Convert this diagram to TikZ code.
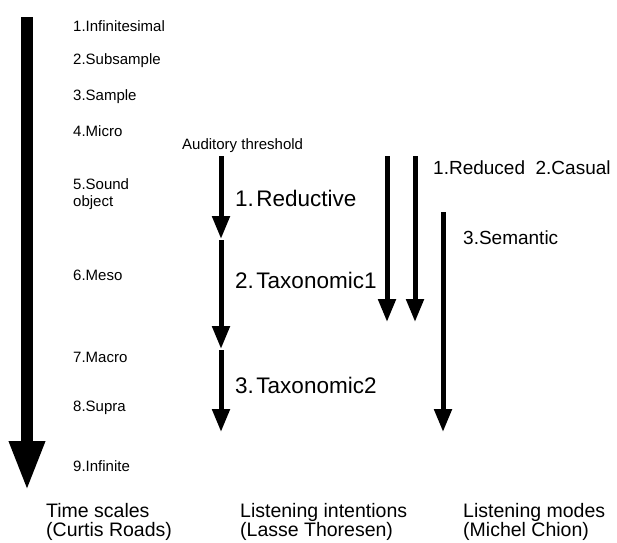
\documentclass[tikz,border=0pt]{standalone}
\usepackage{fontspec}
\setmainfont{Liberation Sans}
\usetikzlibrary{arrows.meta}
\begin{document}
\begin{tikzpicture}[x=1pt,y=-1pt,
  small/.style={anchor=west,font=\fontsize{15}{16.5}\selectfont,inner sep=0pt},
  big/.style={anchor=west,font=\fontsize{22.5}{24}\selectfont,inner sep=0pt},
  mid/.style={anchor=west,font=\fontsize{19}{21}\selectfont,inner sep=0pt},
  foot/.style={anchor=north west,align=left,font=\fontsize{19.5}{19.5}\selectfont,inner sep=0pt},
  bigarrow/.style={line width=12pt,-{Triangle[width=33pt,length=50pt]}},
  thinarrow/.style={line width=5pt,-{Triangle[width=17pt,length=23pt]}}]
\useasboundingbox[fill=white] (0,0) rectangle (617,542);
% time scales
\coordinate (ts0) at (27,17);
\coordinate (ts1) at (27,491);
\draw[bigarrow] (ts0) -- (ts1);
\node[small] (l1) at (73,26) {1.Infinitesimal};
\node[small] (l2) at (73,61) {2.Subsample};
\node[small] (l3) at (73,97) {3.Sample};
\node[small] (l4) at (73,131) {4.Micro};
\node[small,align=left] (l5) at (73,194) {5.Sound\\object};
\node[small] (l6) at (73,275) {6.Meso};
\node[small] (l7) at (73,357) {7.Macro};
\node[small] (l8) at (73,408) {8.Supra};
\node[small] (l9) at (73,466) {9.Infinite};
% listening intentions
\node[small] (thr) at (182,146) {Auditory threshold};
\coordinate (a0) at (221,156);
\coordinate (a1) at (221,239);
\coordinate (b0) at (221,240);
\coordinate (b1) at (221,349);
\coordinate (c0) at (221,350);
\coordinate (c1) at (221,432);
\draw[thinarrow] (a0) -- (a1);
\draw[thinarrow] (b0) -- (b1);
\draw[thinarrow] (c0) -- (c1);
\node[big] (red) at (235,198) {1.\hspace{2.5pt}Reductive};
\node[big] (tax1) at (235,280) {2.\hspace{2.5pt}Taxonomic1};
\node[big] (tax2) at (235,385) {3.\hspace{2.5pt}Taxonomic2};
% listening modes
\coordinate (m10) at (387,156);
\coordinate (m11) at (387,322);
\coordinate (m20) at (415,156);
\coordinate (m21) at (415,322);
\coordinate (m30) at (443,212);
\coordinate (m31) at (443,432);
\draw[thinarrow] (m10) -- (m11);
\draw[thinarrow] (m20) -- (m21);
\draw[thinarrow] (m30) -- (m31);
\node[mid] (rc) at (433,168) {1.Reduced\ \ 2.Casual};
\node[mid] (sem) at (463,238) {3.Semantic};
% footers
\node[foot] (f1) at (46,503) {Time scales\\(Curtis Roads)};
\node[foot] (f2) at (240,503) {Listening intentions\\(Lasse Thoresen)};
\node[foot] (f3) at (463,503) {Listening modes\\(Michel Chion)};
\end{tikzpicture}
\end{document}
